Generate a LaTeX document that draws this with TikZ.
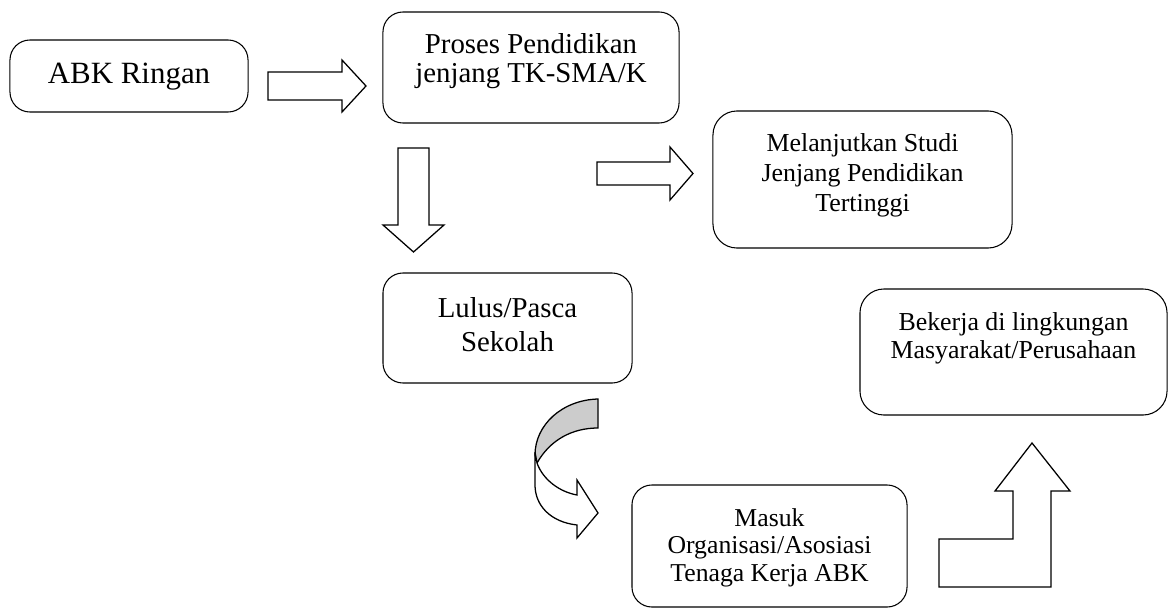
\documentclass[tikz,border=0pt]{standalone}
\usepackage{fontspec}
\setmainfont{Liberation Serif}
\usepackage{tikz}
\usetikzlibrary{positioning}
\begin{document}
\begin{tikzpicture}[
    x=0.025cm, y=-0.025cm,
    box/.style={draw, rounded corners=5mm, line width=0.75pt, inner sep=0pt},
    bigtxt/.style={font=\fontsize{20.5}{24}\selectfont, align=center, inner sep=0pt},
    smalltxt/.style={font=\fontsize{18.4}{21.3}\selectfont, align=center, inner sep=0pt},
    blockarrow/.style={draw, fill=white, line width=0.9pt, line join=miter}
]
\useasboundingbox (0,0) rectangle (1169,610);

% boxes
\node[box, minimum width=5.95cm, minimum height=1.8cm] (abk) at (129,76) {};
\node[bigtxt, font=\fontsize{22}{24}\selectfont] (abkt) at (129,77) {ABK Ringan};
\node[box, minimum width=7.4cm, minimum height=2.775cm] (proses) at (531,67.5) {};
\node[bigtxt, font=\fontsize{20.5}{20.6}\selectfont] (prosest) at (531,61.5) {Proses Pendidikan\\jenjang TK-SMA/K};
\node[box, rounded corners=6mm, minimum width=7.475cm, minimum height=3.425cm] (studi) at (862.5,179.5) {};
\node[smalltxt] (studit) at (862.5,175) {Melanjutkan Studi\\Jenjang Pendidikan\\Tertinggi};
\node[box, minimum width=6.225cm, minimum height=2.75cm] (lulus) at (507.5,328) {};
\node[bigtxt] (lulust) at (507.5,325) {Lulus/Pasca\\Sekolah};
\node[box, rounded corners=6mm, minimum width=7.675cm, minimum height=3.15cm] (kerja) at (1013.5,352) {};
\node[smalltxt, font=\fontsize{18.4}{20}\selectfont] (kerjat) at (1013.5,338) {Bekerja di lingkungan\\Masyarakat/Perusahaan};
\node[box, minimum width=6.875cm, minimum height=3.05cm] (masuk) at (769.5,546) {};
\node[smalltxt, font=\fontsize{18.3}{19.6}\selectfont] (masukt) at (769.5,547.5) {Masuk\\Organisasi/Asosiasi\\Tenaga Kerja ABK};

% block arrows
\coordinate (a1) at (268,86);
\coordinate (a2) at (597,173.5);
\coordinate (a3) at (413.5,148);
\draw[blockarrow] (a1) ++(0,-14) -- ++(74,0) -- ++(0,-12) -- ++(24,26) -- ++(-24,26) -- ++(0,-12) -- ++(-74,0) -- cycle;
\draw[blockarrow] (a2) ++(0,-11.5) -- ++(73,0) -- ++(0,-15) -- ++(23,26.5) -- ++(-23,26.5) -- ++(0,-15) -- ++(-73,0) -- cycle;
\draw[blockarrow] (a3) ++(-15.5,0) -- ++(0,77) -- ++(-15,0) -- ++(30.5,27) -- ++(30.5,-27) -- ++(-15,0) -- ++(0,-77) -- cycle;

% curved arrow
\draw[blockarrow, fill=black!20] (598,399) .. controls (562,400) and (535,425) .. (535,455)
  -- (537,463) .. controls (550,440) and (572,428) .. (598,428) -- cycle;
\draw[blockarrow] (535,452) -- (535,485) .. controls (535,505) and (550,522) .. (577,525)
  -- (577,538) -- (598,513) -- (577,480) -- (577,495)
  .. controls (560,492) and (543,480) .. (537,463) -- cycle;

% bent arrow
\draw[blockarrow] (939,539) -- (1013,539) -- (1013,491) -- (995,491) -- (1032,443)
  -- (1070,491) -- (1051,491) -- (1051,587) -- (939,587) -- cycle;
\end{tikzpicture}
\end{document}
